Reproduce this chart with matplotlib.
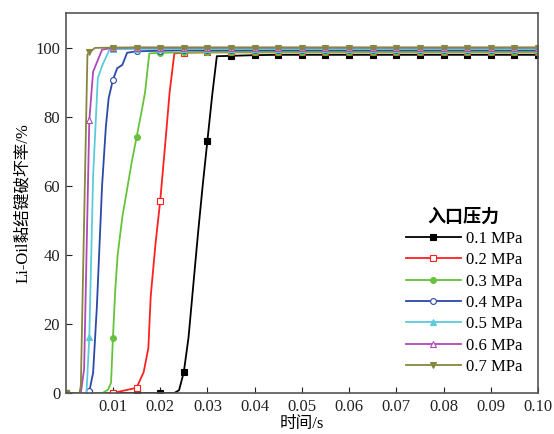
import numpy as np
import matplotlib
matplotlib.use("Agg")
import matplotlib.pyplot as plt

plt.rcParams['font.family'] = ['Liberation Serif', 'Noto Sans CJK SC']
plt.rcParams['axes.unicode_minus'] = False

# tail time points shared by all series (plateau part)
t_tail = [0.035, 0.04, 0.045, 0.05, 0.055, 0.06, 0.065, 0.07, 0.075,
          0.08, 0.085, 0.09, 0.095, 0.1]

t_01 = [0, 0.005, 0.01, 0.015, 0.02, 0.023, 0.024, 0.025, 0.026, 0.027,
        0.028, 0.029, 0.03, 0.031, 0.032] + t_tail
y_01 = [0, 0, 0, 0, 0, 0, 0.8, 6, 16, 31, 46, 60, 73, 86, 97.5,
        97.6, 97.8, 97.9, 97.9, 97.9, 97.9, 97.9, 97.9, 97.9, 97.9, 97.9, 97.9, 97.9, 97.9]

t_02 = [0, 0.005, 0.01, 0.015, 0.0165, 0.0175, 0.018, 0.019, 0.02, 0.021,
        0.022, 0.023, 0.025, 0.03] + t_tail
y_02 = [0, 0, 0, 1.5, 6, 13, 28, 43, 55.5, 71, 87, 98.3, 98.5, 98.6,
        98.6, 98.6, 98.6, 98.6, 98.6, 98.6, 98.6, 98.6, 98.6, 98.6, 98.6, 98.6, 98.6, 98.6]

t_03 = [0, 0.005, 0.0078, 0.009, 0.0096, 0.01, 0.0105, 0.011, 0.012, 0.013,
        0.014, 0.015, 0.016, 0.0168, 0.0177, 0.02, 0.025, 0.03] + t_tail
y_03 = [0, 0, 0, 1, 3, 16, 30, 40, 51, 59, 67, 74, 81, 87, 98.3, 98.5, 98.6, 98.7,
        98.7, 98.7, 98.7, 98.7, 98.7, 98.7, 98.7, 98.7, 98.7, 98.7, 98.7, 98.7, 98.7, 98.7]

t_04 = [0, 0.0045, 0.005, 0.0058, 0.0066, 0.0077, 0.0085, 0.0091, 0.01,
        0.0109, 0.012, 0.013, 0.015, 0.02, 0.025, 0.03] + t_tail
y_04 = [0, 0, 0.5, 5.8, 25, 60, 77, 85.4, 90.7, 94, 95, 98.5, 98.9, 99.1, 99.2, 99.2,
        99.2, 99.2, 99.2, 99.2, 99.2, 99.2, 99.2, 99.2, 99.2, 99.2, 99.2, 99.2, 99.2, 99.2]

t_05 = [0, 0.0044, 0.005, 0.0058, 0.0068, 0.0078, 0.0092, 0.01, 0.015,
        0.02, 0.025, 0.03] + t_tail
y_05 = [0, 0, 16.3, 62.7, 91.2, 95, 99.2, 99.5, 99.6, 99.6, 99.6, 99.6,
        99.6, 99.6, 99.6, 99.6, 99.6, 99.6, 99.6, 99.6, 99.6, 99.6, 99.6, 99.6, 99.6, 99.6]

t_06 = [0, 0.0032, 0.0039, 0.005, 0.0058, 0.0077, 0.01, 0.015, 0.02,
        0.025, 0.03] + t_tail
y_06 = [0, 0, 7, 79, 93, 99.4, 99.9, 100, 100, 100, 100,
        100, 100, 100, 100, 100, 100, 100, 100, 100, 100, 100, 100, 100, 100]

t_07 = [0, 0.0029, 0.0032, 0.0046, 0.005, 0.0062, 0.01, 0.015, 0.02,
        0.025, 0.03] + t_tail
y_07 = [0, 0, 2, 98, 98.6, 99.9, 100, 100, 100, 100, 100,
        100, 100, 100, 100, 100, 100, 100, 100, 100, 100, 100, 100, 100, 100]

labels = ['0.1 MPa', '0.2 MPa', '0.3 MPa', '0.4 MPa', '0.5 MPa', '0.6 MPa', '0.7 MPa']
colors = ['#000000', '#ff2020', '#66c23c', '#2a49a8', '#5ccbd9', '#b048b8', '#868640']
markers = ['s', 's', 'o', 'o', '^', '^', 'v']
filled = [True, False, True, False, True, False, True]

series = [(t_01, y_01), (t_02, y_02), (t_03, y_03), (t_04, y_04),
          (t_05, y_05), (t_06, y_06), (t_07, y_07)]

fig = plt.figure(figsize=(5.54, 4.34), dpi=100)
ax = fig.add_axes([0.1186, 0.0945, 0.8525, 0.8755])

for (t, y), lab, c, m, f in zip(series, labels, colors, markers, filled):
    t = np.array(t)
    mask = np.isclose(np.round(t / 0.005) * 0.005, t, atol=1e-9)
    ax.plot(t, y, color=c, lw=1.3, marker=m, markevery=list(mask),
            markersize=4.2, markerfacecolor=c if f else 'white',
            markeredgecolor=c, markeredgewidth=0.8, label=lab)

ax.set_xlim(0, 0.1)
ax.set_ylim(0, 110)
ax.set_xticks([0.01, 0.02, 0.03, 0.04, 0.05, 0.06, 0.07, 0.08, 0.09, 0.10])
ax.set_xticklabels(['0.01', '0.02', '0.03', '0.04', '0.05', '0.06', '0.07',
                    '0.08', '0.09', '0.10'])
ax.set_yticks([0, 20, 40, 60, 80, 100])
ax.tick_params(direction='in', length=4, width=0.8, labelsize=12, colors='#222222',
               pad=4)
for s in ax.spines.values():
    s.set_color('#555555')
    s.set_linewidth(1.2)

ax.set_xlabel('时间/s', fontsize=12, labelpad=1)
ax.set_ylabel('Li-Oil黏结键破坏率/%', fontsize=12, labelpad=3)

leg = ax.legend(loc='lower right', bbox_to_anchor=(0.98, 0.03), frameon=False,
                title='入口压力', fontsize=12, handlelength=3.3, labelspacing=0.32,
                handletextpad=0.3, borderaxespad=0)
leg.get_title().set_fontsize(13)
leg.get_title().set_fontweight('bold')

fig.savefig('out.png', dpi=100)
